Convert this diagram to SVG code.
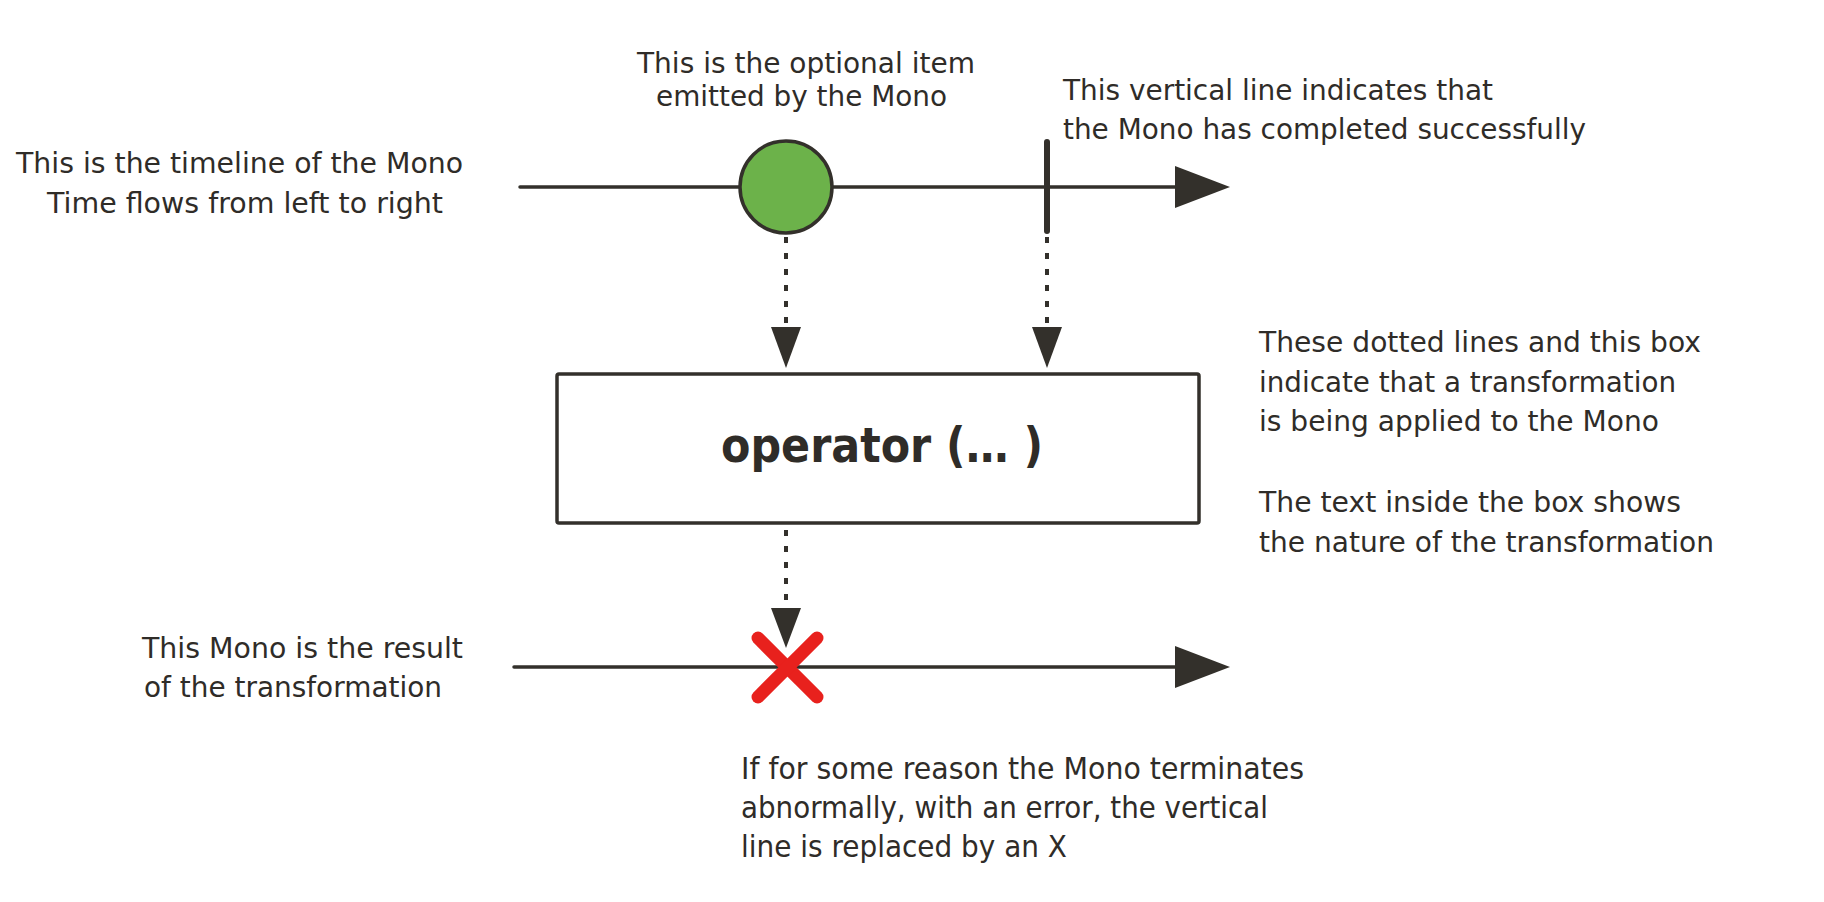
<svg xmlns="http://www.w3.org/2000/svg" width="1824" height="902" viewBox="0 0 1824 902">
  <style>
    .lbl { font-family: "DejaVu Sans", "Liberation Sans", sans-serif; font-size: 28px; fill: #2f2c28; }
    .tall { font-size: 31px; }
    .op { font-family: "DejaVu Sans", "Liberation Sans", sans-serif; font-size: 48px; font-weight: bold; fill: #2f2c28; }
    .line { stroke: #33302b; stroke-width: 3.5; fill: none; stroke-linecap: round; }
    .dots { stroke: #33302b; stroke-width: 4; fill: none; stroke-dasharray: 6 10; }
    .head { fill: #33302b; }
    .cross { stroke: #e8211d; stroke-width: 13; stroke-linecap: round; }
  </style>

  <!-- source timeline -->
  <g id="source-timeline">
    <line class="line" x1="520" y1="187" x2="1180" y2="187"/>
    <polygon class="head" points="1175,166 1230,187 1175,208"/>
  </g>

  <!-- emitted item -->
  <g id="item">
    <circle cx="786" cy="187" r="46" fill="#6cb24a" stroke="#33302b" stroke-width="3.5"/>
  </g>

  <!-- completion marker -->
  <g id="complete">
    <line x1="1047" y1="142" x2="1047" y2="231" stroke="#33302b" stroke-width="6" stroke-linecap="round"/>
  </g>

  <!-- operator box -->
  <g id="operator">
    <rect x="557" y="374" width="642" height="149" rx="2" fill="#ffffff" stroke="#33302b" stroke-width="3.5"/>
    <text class="op" x="721" y="462" textLength="322" lengthAdjust="spacingAndGlyphs">operator (… )</text>
  </g>

  <!-- result timeline -->
  <g id="result-timeline">
    <line class="line" x1="514" y1="667" x2="1180" y2="667"/>
    <polygon class="head" points="1175,646 1230,667 1175,688"/>
  </g>

  <!-- error marker -->
  <g id="error">
    <line class="cross" x1="758" y1="638" x2="817" y2="697"/>
    <line class="cross" x1="817" y1="638" x2="758" y2="697"/>
  </g>

  <!-- dotted connectors -->
  <g id="connectors">
    <line class="dots" x1="786" y1="237" x2="786" y2="324"/>
    <polygon class="head" points="771,327 801,327 786,368"/>
    <line class="dots" x1="1047" y1="237" x2="1047" y2="324"/>
    <polygon class="head" points="1032,327 1062,327 1047,368"/>
    <line class="dots" x1="786" y1="530" x2="786" y2="604"/>
    <polygon class="head" points="771,608 801,608 786,648"/>
  </g>

  <!-- annotations -->
  <g id="label-source">
    <text class="lbl" x="16" y="173" textLength="447" lengthAdjust="spacingAndGlyphs">This is the timeline of the Mono</text>
    <text class="lbl" x="47" y="213" textLength="396" lengthAdjust="spacingAndGlyphs">Time flows from left to right</text>
  </g>
  <g id="label-item">
    <text class="lbl" x="637" y="73" textLength="338" lengthAdjust="spacingAndGlyphs">This is the optional item</text>
    <text class="lbl" x="656" y="106" textLength="291" lengthAdjust="spacingAndGlyphs">emitted by the Mono</text>
  </g>
  <g id="label-complete">
    <text class="lbl" x="1063" y="100" textLength="430" lengthAdjust="spacingAndGlyphs">This vertical line indicates that</text>
    <text class="lbl" x="1063" y="139" textLength="523" lengthAdjust="spacingAndGlyphs">the Mono has completed successfully</text>
  </g>
  <g id="label-operator">
    <text class="lbl" x="1259" y="352" textLength="442" lengthAdjust="spacingAndGlyphs">These dotted lines and this box</text>
    <text class="lbl" x="1259" y="392" textLength="417" lengthAdjust="spacingAndGlyphs">indicate that a transformation</text>
    <text class="lbl" x="1259" y="431" textLength="400" lengthAdjust="spacingAndGlyphs">is being applied to the Mono</text>
    <text class="lbl" x="1259" y="512" textLength="422" lengthAdjust="spacingAndGlyphs">The text inside the box shows</text>
    <text class="lbl" x="1259" y="552" textLength="455" lengthAdjust="spacingAndGlyphs">the nature of the transformation</text>
  </g>
  <g id="label-result">
    <text class="lbl" x="142" y="658" textLength="321" lengthAdjust="spacingAndGlyphs">This Mono is the result</text>
    <text class="lbl" x="144" y="697" textLength="298" lengthAdjust="spacingAndGlyphs">of the transformation</text>
  </g>
  <g id="label-error">
    <text class="lbl tall" x="741" y="779" textLength="563" lengthAdjust="spacingAndGlyphs">If for some reason the Mono terminates</text>
    <text class="lbl tall" x="741" y="818" textLength="527" lengthAdjust="spacingAndGlyphs">abnormally, with an error, the vertical</text>
    <text class="lbl tall" x="741" y="857" textLength="326" lengthAdjust="spacingAndGlyphs">line is replaced by an X</text>
  </g>
</svg>
